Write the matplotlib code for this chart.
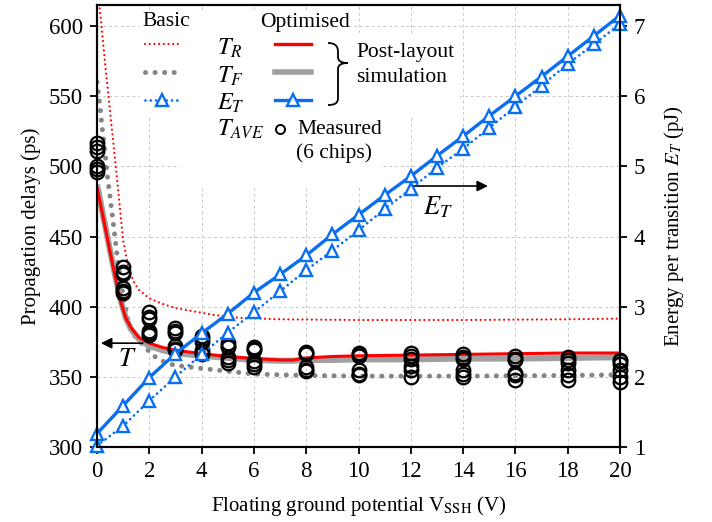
import matplotlib
matplotlib.use("Agg")
import matplotlib.pyplot as plt
from matplotlib.path import Path
from matplotlib.patches import PathPatch, Rectangle
from matplotlib.transforms import Affine2D

plt.rcParams["font.family"] = ["Liberation Serif", "DejaVu Serif"]
plt.rcParams["mathtext.fontset"] = "stix"
plt.rcParams["font.size"] = 15

RED = "#ff0000"
GREY = "#a0a0a0"
GREY_DOT = "#858585"
BLUE = "#0a6ef0"

# ---- basic design, post-layout simulation (ps) ----
v_basic_tr = [0, 0.1, 0.2, 0.3, 0.45, 0.6, 0.75, 0.9, 1.0, 1.2, 1.4, 1.6, 2.0,
              2.5, 3, 3.6, 4.5, 5.5, 7, 10, 14, 18, 20]
basic_tr = [640, 613, 595, 575, 548, 521, 494, 466, 447, 428, 418, 412, 406,
            402, 399, 397, 394, 392, 391, 390.5, 390.5, 391, 391.5]

v_basic_tf = [0, 0.1, 0.2, 0.3, 0.4, 0.5, 0.6, 0.7, 0.8, 0.9, 1.0, 1.2, 1.4,
              1.8, 2.1, 2.4, 2.8, 3.1, 4, 5, 6, 8, 10, 14, 18, 20]
basic_tf = [560, 545, 527, 511, 493, 478, 463, 447, 432, 419, 408, 389, 380,
            372, 366, 362, 359, 358, 356, 354, 352, 351, 350.5, 350.5, 351, 351.5]

# ---- optimised design (ps) ----
v_opt = [0, 0.1, 0.2, 0.35, 0.5, 0.7, 0.9, 1.1, 1.3, 1.6, 2, 2.5, 3, 4, 5, 6,
         7, 7.5, 8, 9, 10, 12, 14, 16, 18, 20]
opt_tf = [487, 478, 468, 454, 440, 422, 405, 392, 384, 377, 372, 369, 367, 365,
          363.5, 362, 361.5, 361.5, 362, 362, 362.5, 362.5, 363, 363, 363.5, 364]
opt_tr = [485, 476, 467, 453, 439, 421, 404, 392, 385, 378, 374, 371, 369,
          366.5, 364.5, 363, 362, 362, 363.5, 364.5, 365, 365.5, 366, 366.5, 367, 367]

# ---- energy per transition (pJ) ----
v_energy = list(range(21))
basic_et = [1.02, 1.30, 1.66, 2.00, 2.32, 2.63, 2.92, 3.22, 3.52, 3.80, 4.09,
            4.39, 4.68, 4.98, 5.25, 5.55, 5.85, 6.15, 6.46, 6.74, 7.03]
opt_et = [1.19, 1.59, 1.99, 2.33, 2.62, 2.90, 3.20, 3.46, 3.73, 4.03, 4.31,
          4.59, 4.86, 5.15, 5.43, 5.72, 6.00, 6.28, 6.57, 6.86, 7.15]

# ---- measured T_AVE, 6 chips (ps) ----
v_meas = [0, 1, 2, 3, 4, 5, 6, 8, 10, 12, 14, 16, 18, 20]
meas = [
    [517, 514, 511, 500, 498, 496],
    [428, 425, 423, 413, 411, 410],
    [396, 393, 391, 383, 381, 380],
    [385, 383, 381, 372, 370, 369],
    [379, 377, 375, 369, 367, 366],
    [374, 372, 371, 364, 362, 360],
    [371, 370, 369, 361, 359, 357],
    [368, 367, 366, 357, 355, 354],
    [367, 366, 365, 355, 352, 351],
    [367, 365, 363, 358, 355, 350],
    [366, 364, 363, 355, 352, 350],
    [365, 363, 362, 353, 351, 348],
    [364, 362, 360, 355, 351, 348],
    [362, 361, 359, 355, 350, 346],
]

W, H = 712, 522
fig = plt.figure(figsize=(W / 100, H / 100), dpi=100)
ax = fig.add_axes([97 / W, 1 - 447 / H, 523 / W, 442 / H])
ax2 = ax.twinx()
# reference-pixel coordinates for the hand-made legend
px = Affine2D().scale(1 / W, -1 / H).translate(0, 1) + fig.transFigure

dot_red = dict(ls=(0, (0.01, 2.1)), dash_capstyle="round", lw=1.6)
dot_grey = dict(ls=(0, (0.01, 1.9)), dash_capstyle="round", lw=3.6)
dot_blue = dict(ls=(0, (0.01, 1.9)), dash_capstyle="round", lw=2.0)
tri = dict(marker="^", ms=8.5, mfc="white", mec=BLUE, mew=1.7)

ax.plot(v_basic_tr, basic_tr, color=RED, zorder=3, **dot_red)
ax.plot(v_basic_tf, basic_tf, color=GREY_DOT, zorder=3, **dot_grey)
ax.plot(v_opt, opt_tf, color=GREY, lw=4.4, solid_capstyle="butt", zorder=3)
ax.plot(v_opt, opt_tr, color=RED, lw=2.2, solid_capstyle="butt", zorder=3.1)
for v, vals in zip(v_meas, meas):
    ax.plot([v] * len(vals), vals, ls="none", marker="o", ms=9.8, mfc="none",
            mec="black", mew=1.6, clip_on=False, zorder=4)

ax2.plot(v_energy, basic_et, color=BLUE, clip_on=False, **dot_blue, **tri)
ax2.plot(v_energy, opt_et, color=BLUE, lw=2.4, clip_on=False, **tri)

ax.set_xlim(0, 20)
ax.set_ylim(300, 615)
ax2.set_ylim(1, 7.3)
ax.set_xticks(range(0, 21, 2))
ax.set_yticks(range(300, 601, 50))
ax2.set_yticks(range(1, 8))
ax.grid(True, color="#c8c8c8", lw=0.7, ls=(0, (3, 3)))
ax.set_axisbelow(True)
for a in (ax, ax2):
    a.tick_params(direction="out", length=5, width=1.3, labelsize=16.5, pad=5)
    for s in a.spines.values():
        s.set_linewidth(1.5)
    for lbl in a.get_xticklabels() + a.get_yticklabels():
        lbl.set_fontfamily("Liberation Serif")
ax.set_xlabel(r"Floating ground potential V$_{\mathrm{SSH}}$ (V)", labelpad=9)
ax.set_ylabel("Propagation delays (ps)", labelpad=6)
ax2.set_ylabel(r"Energy per transition $E_T$ (pJ)", labelpad=12)

# white patches behind the legend block (hide grid there)
for (x0, y0, x1, y1) in [(140, 10, 345, 35), (140, 35, 460, 118), (180, 118, 380, 185)]:
    ax.add_patch(Rectangle((x0, y0), x1 - x0, y1 - y0, transform=px,
                           facecolor="white", edgecolor="none", zorder=1))

# annotations T and E_T
ax.annotate("", xy=(0.15, 374), xytext=(1.75, 374),
            arrowprops=dict(arrowstyle="-|>", color="black", lw=1.2,
                            mutation_scale=16, shrinkA=0, shrinkB=0), zorder=5)
ax.text(1.15, 362, r"$T$", ha="center", va="center", fontsize=19, zorder=5)
ax.annotate("", xy=(14.95, 486), xytext=(12.05, 486),
            arrowprops=dict(arrowstyle="-|>", color="black", lw=1.2,
                            mutation_scale=16, shrinkA=0, shrinkB=0), zorder=5)
ax.text(13.05, 471, r"$E_T$", ha="center", va="center", fontsize=19, zorder=5)

# hand-made legend
fig.text(166, 22, "Basic", transform=px, ha="center", va="center", fontsize=15.5)
fig.text(305, 22, "Optimised", transform=px, ha="center", va="center", fontsize=15.5)
rows_y = [44, 72, 100]
fig.add_artist(plt.Line2D([145, 178], [rows_y[0]] * 2, transform=px, color=RED, **dot_red))
fig.add_artist(plt.Line2D([145, 178], [rows_y[1]] * 2, transform=px, color=GREY_DOT, **dot_grey))
fig.add_artist(plt.Line2D([145, 178], [rows_y[2]] * 2, transform=px, color=BLUE, **dot_blue))
fig.add_artist(plt.Line2D([161.5], [rows_y[2]], transform=px, ls="none", **tri))
fig.add_artist(plt.Line2D([275, 311], [rows_y[0]] * 2, transform=px, color=RED, lw=2.4))
fig.add_artist(plt.Line2D([275, 311], [rows_y[1]] * 2, transform=px, color=GREY, lw=4.0))
fig.add_artist(plt.Line2D([275, 311], [rows_y[2]] * 2, transform=px, color=BLUE, lw=2.4))
fig.add_artist(plt.Line2D([293], [rows_y[2]], transform=px, ls="none", **tri))
for lab, y in zip([r"$T_R$", r"$T_F$", r"$E_T$", r"$T_{AVE}$"], [48, 76, 103, 129]):
    fig.text(217, y, lab, transform=px, ha="left", va="center", fontsize=17.5)
fig.add_artist(plt.Line2D([280], [129], transform=px, ls="none", marker="o",
                          ms=6.5, mfc="none", mec="black", mew=1.4))
fig.text(297, 129, "Measured", transform=px, ha="left", va="center", fontsize=15.5)
fig.text(296, 153, "(6 chips)", transform=px, ha="left", va="center", fontsize=15.5)
fig.text(356, 52, "Post-layout", transform=px, ha="left", va="center", fontsize=15.5)
fig.text(356, 77, "simulation", transform=px, ha="left", va="center", fontsize=15.5)

brace = Path(
    [(328, 43), (335, 43), (338, 46), (338, 52), (338, 57),
     (338, 61), (341, 63), (348, 63), (341, 63), (338, 65), (338, 69),
     (338, 98), (338, 103), (335, 105), (328, 105)],
    [Path.MOVETO, Path.CURVE4, Path.CURVE4, Path.CURVE4, Path.LINETO,
     Path.CURVE4, Path.CURVE4, Path.CURVE4, Path.CURVE4, Path.CURVE4, Path.CURVE4,
     Path.LINETO, Path.CURVE4, Path.CURVE4, Path.CURVE4])
fig.add_artist(PathPatch(brace, transform=px, fill=False, lw=1.3, color="black"))

fig.savefig("out.png", dpi=100)
